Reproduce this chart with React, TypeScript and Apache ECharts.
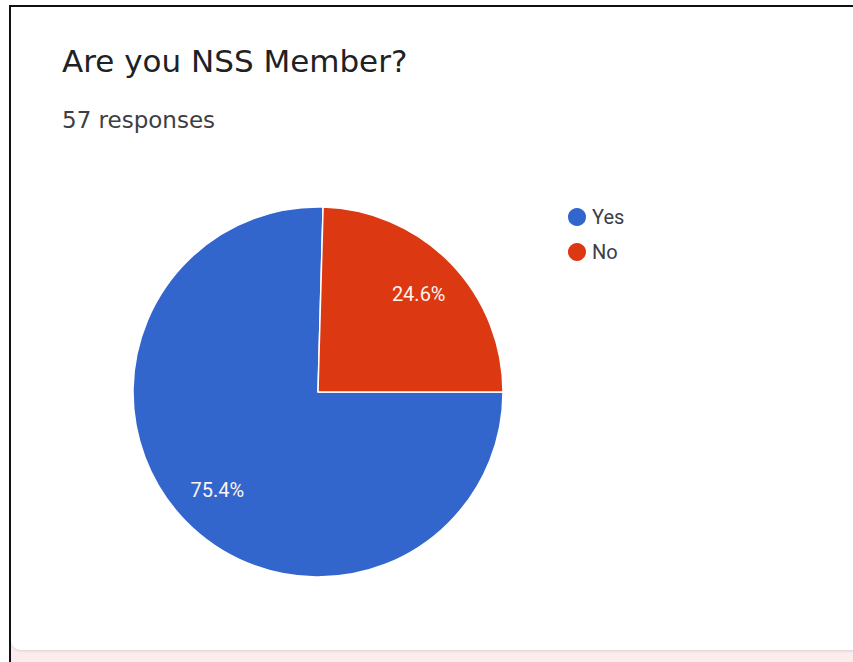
import React, { useEffect, useRef } from "react";
import * as echarts from "echarts";

const titleText = "Are you NSS Member?";
const subtitleText = "57 responses";
const categories = ["Yes", "No"];
const counts = [43, 14];
const colors = ["#3366cc", "#dc3912"];

export default function App() {
  const ref = useRef<HTMLDivElement>(null);

  useEffect(() => {
    if (!ref.current) return;
    const chart = echarts.init(ref.current, null, { renderer: "svg" });
    const data = categories.map((name, i) => ({
      name,
      value: counts[i],
      itemStyle: { color: colors[i] },
    }));
    chart.setOption({
      animation: false,
      backgroundColor: "#ffffff",
      graphic: [
        { type: "rect", z: 0, shape: { x: 11, y: 640, width: 842, height: 22 }, style: { fill: "#fbeced" } },
        {
          type: "rect",
          z: 1,
          shape: { x: 11, y: 7, width: 860, height: 643, r: [0, 0, 0, 10] },
          style: { fill: "#ffffff", shadowBlur: 3, shadowColor: "rgba(0,0,0,0.12)", shadowOffsetY: 1 },
        },
        { type: "rect", z: 2, shape: { x: 9, y: 5, width: 844, height: 2 }, style: { fill: "#111111" } },
        { type: "rect", z: 2, shape: { x: 9, y: 5, width: 2, height: 657 }, style: { fill: "#111111" } },
        {
          type: "text",
          z: 3,
          x: 62,
          y: 61,
          style: {
            text: titleText,
            font: "31px 'DejaVu Sans'",
            fill: "#202124",
            verticalAlign: "middle",
            align: "left",
          },
        },
        {
          type: "text",
          z: 3,
          x: 62,
          y: 120,
          style: {
            text: subtitleText,
            font: "23px 'DejaVu Sans'",
            fill: "#3c4043",
            verticalAlign: "middle",
            align: "left",
          },
        },
      ],
      legend: {
        orient: "vertical",
        left: 566,
        top: 206,
        padding: 0,
        itemWidth: 20,
        itemHeight: 20,
        itemGap: 13,
        itemTextGap: 9,
        icon: "circle",
        selectedMode: false,
        data: categories.map((name, i) => ({ name, itemStyle: { color: colors[i] } })),
        textStyle: { fontFamily: "Roboto", fontSize: 20, color: "#3c4043" },
      },
      series: [
        {
          type: "pie",
          z: 5,
          center: [318, 392],
          radius: [0, 185],
          startAngle: 0,
          clockwise: true,
          silent: true,
          label: { show: false },
          labelLine: { show: false },
          itemStyle: { borderColor: "#ffffff", borderWidth: 1.5 },
          data,
        },
        {
          type: "pie",
          z: 6,
          center: [318, 392],
          radius: [90, 185],
          startAngle: 0,
          clockwise: true,
          silent: true,
          legendHoverLink: false,
          itemStyle: { color: "rgba(0,0,0,0)", borderWidth: 0 },
          label: {
            show: true,
            position: "inside",
            rotate: 0,
            fontFamily: "Roboto",
            fontSize: 20,
            color: "#fdf3f0",
            formatter: (p: any) => `${p.percent.toFixed(1)}%`,
          },
          labelLine: { show: false },
          data: categories.map((name, i) => ({ name, value: counts[i] })),
        },
      ],
    });
    return () => chart.dispose();
  }, []);

  return (
    <div
      ref={ref}
      style={{ position: "fixed", left: 0, top: 0, width: 853, height: 662 }}
    />
  );
}
